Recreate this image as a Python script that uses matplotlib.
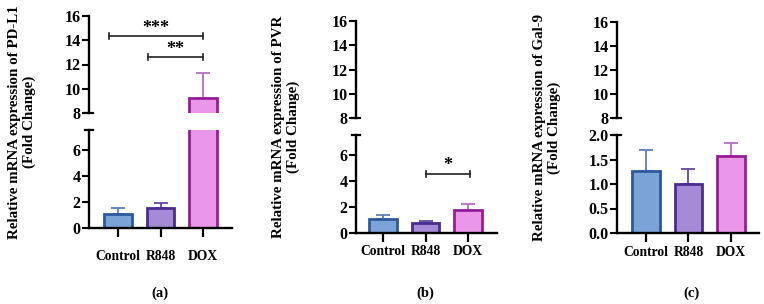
import matplotlib.pyplot as plt
import numpy as np

plt.rcParams['font.family'] = ['Liberation Serif', 'DejaVu Serif']
plt.rcParams['font.weight'] = 'bold'

groups = ['Control', 'R848', 'DOX']
pdl1_mean = [1.1, 1.5, 9.2]
pdl1_err = [0.4, 0.45, 2.1]
pvr_mean = [1.1, 0.75, 1.75]
pvr_err = [0.25, 0.15, 0.45]
gal9_mean = [1.27, 1.0, 1.57]
gal9_err = [0.43, 0.3, 0.26]

fills = ['#7ba3d8', '#a58bd6', '#ea97ea']
edges = ['#2e5a9c', '#4a2d8c', '#981c98']
errc = ['#5a80bc', '#6548a6', '#b46fc2']

ylabels = ['Relative mRNA expression of PD-L1\n(Fold Change)',
           'Relative mRNA expression of PVR\n(Fold Change)',
           'Relative mRNA expression of Gal-9\n(Fold Change)']
letters = ['(a)', '(b)', '(c)']

W, H = 764, 304
fig = plt.figure(figsize=(W / 100, H / 100), dpi=100)


def px_axes(x0, x1, ytop, ybot):
    return fig.add_axes([x0 / W, 1 - ybot / H, (x1 - x0) / W, (ybot - ytop) / H])


# panel layout in pixels: (x0, x1, upper top, upper bottom, lower top, lower bottom)
layout = [(89, 232, 16, 113, 130, 228),
          (356, 497, 21, 118, 135, 233),
          (617, 759, 22, 118, 135, 233)]
lower_lim = [(0, 7.5), (0, 7.5), (0, 2.0)]
lower_ticks = [[0, 2, 4, 6], [0, 2, 4, 6], [0, 0.5, 1.0, 1.5, 2.0]]
xlims = [(-0.68, 2.68), (-0.64, 2.68), (-0.68, 2.66)]
xpad = [9, 2, 3]
ylab_x = [22, 286, 547]
letter_x = [160, 425, 692]

data = [(pdl1_mean, pdl1_err), (pvr_mean, pvr_err), (gal9_mean, gal9_err)]
x = np.arange(len(groups))

uppers, lowers = [], []
for i, (mean, err) in enumerate(data):
    x0, x1, ut, ub, lt, lb = layout[i]
    up = px_axes(x0, x1, ut, ub)
    lo = px_axes(x0, x1, lt, lb)
    for ax in (up, lo):
        ax.bar(x, mean, width=0.65, color=fills, edgecolor=edges, linewidth=2.0, zorder=2)
        for j in range(3):
            ax.errorbar(x[j], mean[j], yerr=[[0], [err[j]]], color=errc[j],
                        capsize=5, elinewidth=1.3, capthick=1.3, zorder=1)
        ax.set_xlim(*xlims[i])
        ax.spines['top'].set_visible(False)
        ax.spines['right'].set_visible(False)
        ax.spines['left'].set_linewidth(1.7)
        ax.spines['bottom'].set_linewidth(1.7)
        ax.tick_params(axis='y', length=5, width=1.5, pad=1, labelsize=11.5)
        ax.set_facecolor('none')
    up.set_ylim(8, 16)
    up.set_yticks([8, 10, 12, 14, 16])
    up.spines['bottom'].set_visible(False)
    up.set_xticks([])
    lo.set_ylim(*lower_lim[i])
    lo.set_yticks(lower_ticks[i])
    if i == 2:
        lo.set_yticklabels(['%.1f' % v for v in lower_ticks[i]])
    lo.set_xticks(x)
    lo.set_xticklabels(groups)
    lo.tick_params(axis='x', length=6.5, width=1.6, pad=xpad[i], labelsize=9.8)
    # break caps on the axis
    up.plot([-0.03, 0.03], [0, 0], transform=up.transAxes, color='k', lw=1.6, clip_on=False)
    lo.plot([-0.03, 0.03], [1, 1], transform=lo.transAxes, color='k', lw=1.6, clip_on=False)

    fig.text(ylab_x[i] / W, 1 - ((ut + lb) / 2) / H, ylabels[i], rotation=90,
             ha='center', va='center', fontsize=10.8, fontweight='bold', linespacing=1.1)
    fig.text(letter_x[i] / W, 1 - 293 / H, letters[i], ha='center', va='center',
             fontsize=10.5, fontweight='bold')
    uppers.append(up)
    lowers.append(lo)


def sig(ax, xa, xb, y, label, cap):
    ax.plot([xa, xb], [y, y], color='#222222', lw=1.2, clip_on=False)
    ax.plot([xa, xa], [y - cap, y + cap], color='#222222', lw=1.2, clip_on=False)
    ax.plot([xb, xb], [y - cap, y + cap], color='#222222', lw=1.2, clip_on=False)
    ax.text((xa + xb) / 2, y + 2.6 * cap, label, ha='center', va='center',
            fontsize=13, fontweight='bold', clip_on=False)


sig(uppers[0], -0.2, 2.0, 14.35, '***', 0.25)
sig(uppers[0], 0.7, 2.0, 12.6, '**', 0.25)
sig(lowers[1], 1.0, 2.05, 4.5, '*', 0.25)

fig.savefig('out.png', dpi=100)
